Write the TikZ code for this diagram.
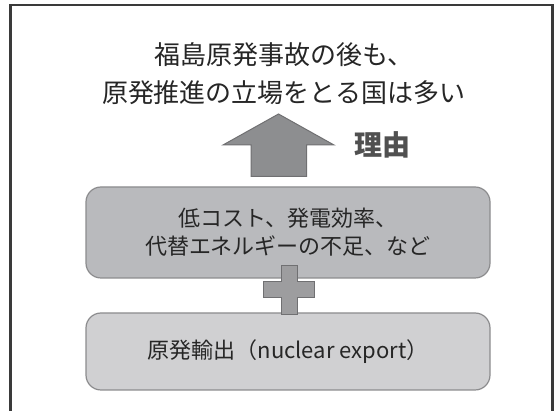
\documentclass[tikz,border=0pt]{standalone}
\usepackage{fontspec}
\setmainfont{Noto Sans CJK JP}
\newfontfamily\jp{Noto Sans CJK JP}
\definecolor{framec}{HTML}{3A3A3A}
\definecolor{txt}{HTML}{262626}
\definecolor{boxa}{HTML}{B9BABD}
\definecolor{boxb}{HTML}{D0D0D2}
\definecolor{boxline}{HTML}{8C8C8E}
\definecolor{arrowfill}{HTML}{8D8E90}
\definecolor{arrowline}{HTML}{707072}
\definecolor{reason}{HTML}{505050}
\begin{document}
\begin{tikzpicture}[x=1pt,y=-1pt,
  rbox/.style={draw=boxline,line width=1.2pt,rounded corners=15pt,minimum width=404pt,inner sep=0pt,align=center,text=txt,font=\jp\fontsize{22}{28}\selectfont},
  shapefill/.style={fill=arrowfill,draw=arrowline,line width=1pt}]
\useasboundingbox (0,0) rectangle (558,411);
\clip (0,0) rectangle (558,411);
\fill[white] (0,0) rectangle (558,411);
\draw[framec,line width=2.6pt] (10.5,5) rectangle (552.5,430);
\node[text=txt,align=center,font=\jp\fontsize{26}{38}\selectfont] (title) at (284,74) {福島原発事故の後も、\\原発推進の立場をとる国は多い};
% arrow
\coordinate (tip) at (278.5,114);
\draw[shapefill] (tip) -- (334,145) -- (306.5,145) -- (306.5,176.5) -- (251,176.5) -- (251,145) -- (223,145) -- cycle;
\node[text=reason,font=\jp\bfseries\fontsize{28}{28}\selectfont] (reasonlbl) at (382.5,145) {理由};
\node[rbox,fill=boxa,minimum height=91pt] (top) at (288,232.5) {低コスト、発電効率、\\代替エネルギーの不足、など};
\node[rbox,fill=boxb,minimum height=77pt] (bot) at (288,351.5) {原発輸出（nuclear export）};
% plus
\draw[shapefill,fill=boxline!85!white] (281,266) -- (297.5,266) -- (297.5,282) -- (314,282) -- (314,298) -- (297.5,298) -- (297.5,314.5) -- (281,314.5) -- (281,298) -- (263,298) -- (263,282) -- (281,282) -- cycle;
\end{tikzpicture}
\end{document}
